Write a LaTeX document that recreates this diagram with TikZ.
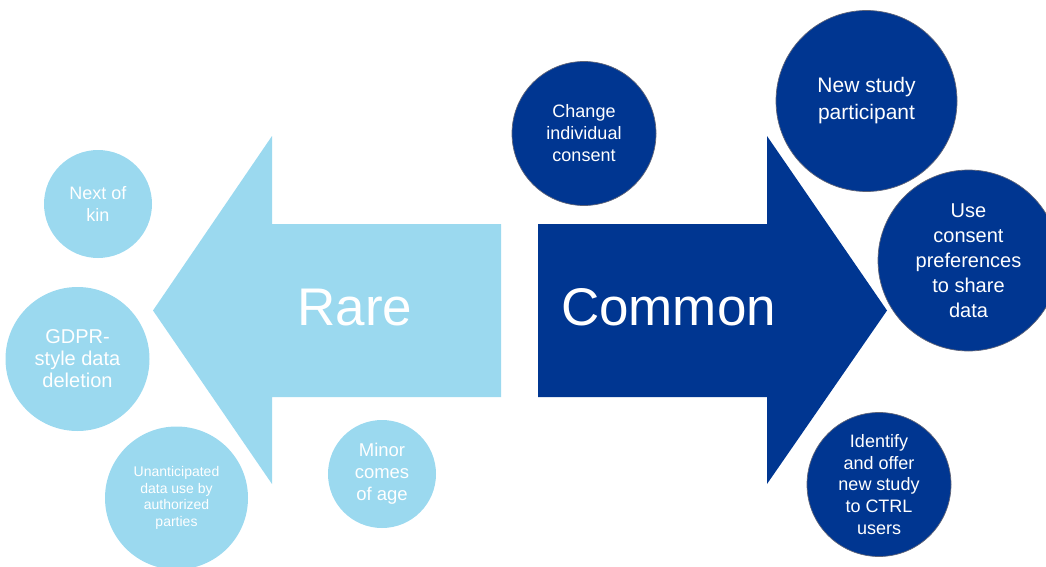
\documentclass[tikz,border=0pt]{standalone}
\usepackage{fontspec}
\setmainfont{Liberation Sans}
\definecolor{rarefill}{RGB}{155,217,239}
\definecolor{commonfill}{RGB}{0,54,145}
\definecolor{ringline}{RGB}{95,100,120}
\begin{document}
\begin{tikzpicture}[x=1pt,y=-1pt,
  bubble/.style={circle,inner sep=0pt,align=center,text=white},
  rarebubble/.style={bubble,fill=rarefill},
  commonbubble/.style={bubble,fill=commonfill,draw=ringline,line width=0.7pt},
  bigword/.style={text=white,font=\fontsize{53}{60}\selectfont,inner sep=0pt}]
\useasboundingbox (0,0) rectangle (1046,567);

% left-pointing arrow
\fill[rarefill] (501,224) -- (272,224) -- (272,136) -- (153,310.5)
  -- (272,484) -- (272,397) -- (501,397) -- cycle;
% right-pointing arrow
\fill[commonfill] (538,224) -- (767,224) -- (767,136) -- (887,310.5)
  -- (767,484) -- (767,397) -- (538,397) -- cycle;

\node[bigword] (rare) at (355,307.5) {Rare};
\node[bigword] (common) at (668.5,307.5) {Common};

% rare cases
\node[rarebubble,minimum size=108,font=\fontsize{18}{22.5}\selectfont] (kin) at (98,204) {Next of\\kin};
\node[rarebubble,minimum size=144,font=\fontsize{20}{22}\selectfont] (gdpr) at (77.5,359) {GDPR-\\style data\\deletion};
\node[rarebubble,minimum size=143,font=\fontsize{14}{16.7}\selectfont] (unant) at (176.5,498) {Unanticipated\\data use by\\authorized\\parties};
\node[rarebubble,minimum size=108,font=\fontsize{18.5}{22}\selectfont] (minor) at (382,474) {Minor\\comes\\of age};

% common cases
\node[commonbubble,minimum size=144,font=\fontsize{18}{22}\selectfont] (change) at (584,133.5) {Change\\individual\\consent};
\node[commonbubble,minimum size=181,font=\fontsize{21}{27}\selectfont] (newp) at (866.5,101) {New study\\participant};
\node[commonbubble,minimum size=181,font=\fontsize{20}{25}\selectfont] (share) at (968.5,260.5) {Use\\consent\\preferences\\to share\\data};
\node[commonbubble,minimum size=144,font=\fontsize{18}{21.7}\selectfont] (ident) at (879,484.5) {Identify\\and offer\\new study\\to CTRL\\users};
\end{tikzpicture}
\end{document}
